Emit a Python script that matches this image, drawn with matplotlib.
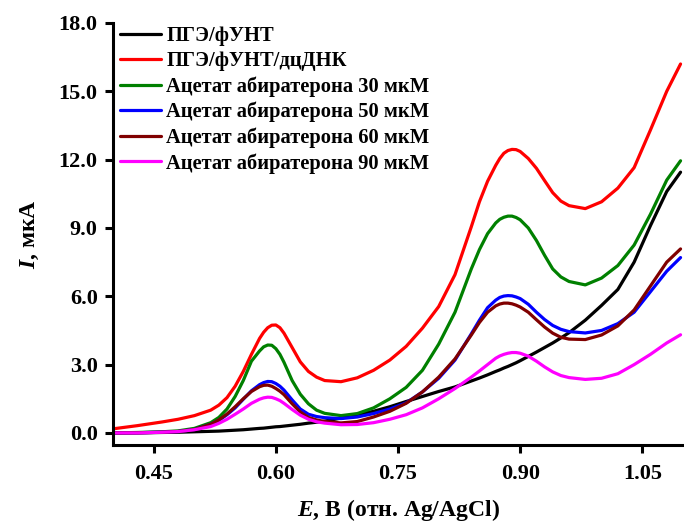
import matplotlib
matplotlib.use("Agg")
import matplotlib.pyplot as plt

plt.rcParams['font.family'] = ['Liberation Serif', 'DejaVu Serif']
plt.rcParams['font.weight'] = 'bold'
plt.rcParams['mathtext.fontset'] = 'custom'
plt.rcParams['mathtext.rm'] = 'Liberation Serif:bold'
plt.rcParams['mathtext.it'] = 'Liberation Serif:italic:bold'

E = [0.40, 0.43, 0.46, 0.48, 0.50, 0.52, 0.53, 0.54, 0.55, 0.56, 0.57, 0.58,
     0.585, 0.59, 0.595, 0.60, 0.605, 0.61, 0.62, 0.63, 0.64, 0.65, 0.66, 0.68,
     0.70, 0.72, 0.74, 0.76, 0.78, 0.80, 0.82, 0.84, 0.85, 0.86, 0.87, 0.875,
     0.88, 0.885, 0.89, 0.895, 0.90, 0.91, 0.92, 0.93, 0.94, 0.95, 0.96, 0.98,
     1.00, 1.02, 1.04, 1.06, 1.08, 1.097]

I_pge = [0.00, 0.00, 0.02, 0.03, 0.05, 0.07, 0.08, 0.10, 0.12, 0.14, 0.17, 0.20,
         0.21, 0.23, 0.25, 0.27, 0.28, 0.30, 0.34, 0.38, 0.43, 0.47, 0.52, 0.65,
         0.80, 0.95, 1.15, 1.38, 1.60, 1.82, 2.02, 2.28, 2.41, 2.55, 2.70, 2.77,
         2.85, 2.92, 3.00, 3.08, 3.17, 3.36, 3.55, 3.75, 3.95, 4.17, 4.40, 4.95,
         5.60, 6.30, 7.50, 9.10, 10.60, 11.45]

I_dna = [0.18, 0.32, 0.48, 0.60, 0.76, 1.00, 1.22, 1.55, 2.05, 2.70, 3.45, 4.15,
         4.42, 4.62, 4.73, 4.74, 4.62, 4.38, 3.75, 3.12, 2.70, 2.45, 2.30, 2.25,
         2.42, 2.75, 3.20, 3.80, 4.60, 5.55, 6.95, 9.05, 10.15, 11.05, 11.75, 12.05,
         12.28, 12.40, 12.45, 12.44, 12.36, 12.05, 11.62, 11.08, 10.55, 10.18, 9.98, 9.85,
         10.15, 10.75, 11.65, 13.30, 15.00, 16.20]

I_30 = [0.00, 0.02, 0.05, 0.09, 0.20, 0.45, 0.68, 1.05, 1.60, 2.30, 3.15, 3.60,
        3.78, 3.86, 3.85, 3.70, 3.45, 3.10, 2.30, 1.70, 1.28, 1.00, 0.86, 0.76,
        0.85, 1.10, 1.50, 2.00, 2.75, 3.90, 5.30, 7.20, 8.05, 8.75, 9.22, 9.38,
        9.47, 9.52, 9.52, 9.46, 9.36, 9.00, 8.45, 7.80, 7.20, 6.85, 6.65, 6.50,
        6.80, 7.35, 8.25, 9.60, 11.10, 11.95]

I_50 = [0.00, 0.01, 0.03, 0.06, 0.15, 0.38, 0.55, 0.80, 1.10, 1.48, 1.85, 2.12,
        2.21, 2.26, 2.25, 2.17, 2.05, 1.88, 1.45, 1.05, 0.82, 0.72, 0.67, 0.63,
        0.70, 0.85, 1.05, 1.32, 1.80, 2.40, 3.20, 4.35, 4.95, 5.50, 5.83, 5.95,
        6.01, 6.03, 6.02, 5.97, 5.90, 5.65, 5.30, 4.98, 4.72, 4.55, 4.45, 4.39,
        4.50, 4.80, 5.30, 6.20, 7.10, 7.70]

I_60 = [0.00, 0.01, 0.03, 0.06, 0.15, 0.38, 0.57, 0.83, 1.15, 1.50, 1.82, 2.03,
        2.09, 2.10, 2.05, 1.95, 1.83, 1.68, 1.28, 0.92, 0.68, 0.57, 0.50, 0.44,
        0.50, 0.70, 0.95, 1.30, 1.80, 2.45, 3.25, 4.30, 4.85, 5.30, 5.58, 5.66,
        5.70, 5.70, 5.67, 5.61, 5.53, 5.30, 4.97, 4.65, 4.38, 4.20, 4.12, 4.10,
        4.30, 4.70, 5.40, 6.45, 7.50, 8.08]

I_90 = [0.00, 0.00, 0.03, 0.06, 0.14, 0.28, 0.42, 0.60, 0.82, 1.05, 1.30, 1.48,
        1.54, 1.57, 1.56, 1.50, 1.42, 1.30, 1.03, 0.78, 0.60, 0.49, 0.43, 0.36,
        0.37, 0.45, 0.60, 0.80, 1.10, 1.50, 1.95, 2.45, 2.72, 3.00, 3.28, 3.38,
        3.45, 3.50, 3.53, 3.53, 3.50, 3.37, 3.15, 2.90, 2.68, 2.52, 2.43, 2.35,
        2.40, 2.60, 3.00, 3.45, 3.95, 4.31]

labels = ['ПГЭ/фУНТ', 'ПГЭ/фУНТ/дцДНК',
          'Ацетат абиратерона 30 мкМ', 'Ацетат абиратерона 50 мкМ',
          'Ацетат абиратерона 60 мкМ', 'Ацетат абиратерона 90 мкМ']
colors = ['#000000', '#FF0000', '#008000', '#0000FF', '#800000', '#FF00FF']
series = [I_pge, I_dna, I_30, I_50, I_60, I_90]

x_ticks = [0.45, 0.60, 0.75, 0.90, 1.05]
y_ticks = [0.0, 3.0, 6.0, 9.0, 12.0, 15.0, 18.0]

fig = plt.figure(figsize=(6.84, 5.22), dpi=100)
ax = fig.add_axes([113/684, 1 - 445/522, 570/684, 422/522])

for y, c, lab in zip(series, colors, labels):
    ax.plot(E, y, color=c, lw=2.3, label=lab,
            solid_capstyle='round', solid_joinstyle='round')

ax.set_xlim(0.40, 1.10)
ax.set_ylim(-0.53, 18.0)
ax.set_xticks(x_ticks)
ax.set_xticklabels([f'{v:.2f}' for v in x_ticks])
ax.set_yticks(y_ticks)
ax.set_yticklabels([f'{v:.1f}' for v in y_ticks])

for s in ['top', 'right']:
    ax.spines[s].set_visible(False)
for s in ['left', 'bottom']:
    ax.spines[s].set_linewidth(2.2)
ax.tick_params(direction='out', length=6, width=2.2, labelsize=16)
ax.tick_params(axis='x', pad=8)
ax.tick_params(axis='y', pad=5)
for t in ax.get_xticklabels() + ax.get_yticklabels():
    t.set_fontweight('bold')

ax.set_xlabel(r'$\mathit{E}$, В (отн. Ag/AgCl)', fontsize=17, fontweight='bold', labelpad=9)
ax.set_ylabel(r'$\mathit{I}$, мкА', fontsize=17, fontweight='bold', labelpad=13)

leg = ax.legend(loc='upper left', bbox_to_anchor=(0.0123, 0.993), frameon=False,
                prop={'family': 'Liberation Serif', 'weight': 'bold', 'size': 14.8},
                handlelength=2.0, handletextpad=0.25, labelspacing=0.25,
                borderpad=0.0, borderaxespad=0.0)
for h in leg.get_lines():
    h.set_linewidth(2.3)

fig.savefig('out.png', dpi=100)
